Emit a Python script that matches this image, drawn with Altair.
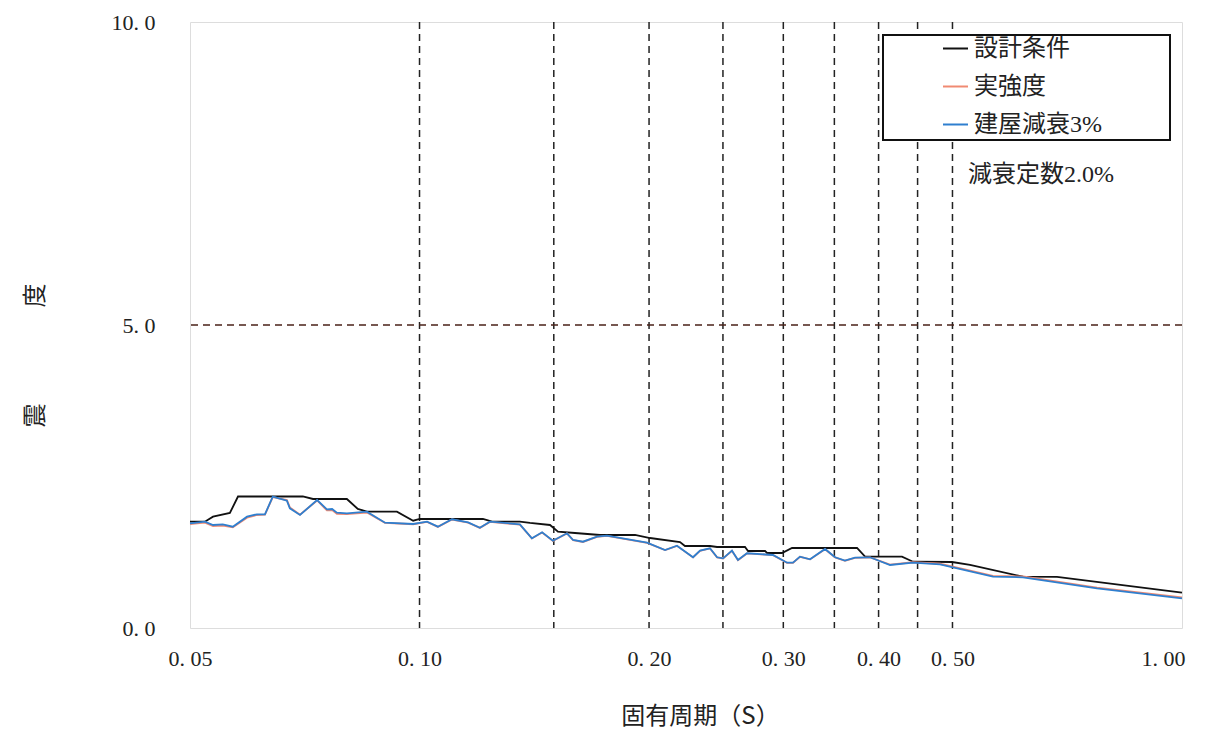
import altair as alt
import pandas as pd

# ---- data ----
series_names = ["設計条件", "実強度", "建屋減衰3%"]
series_colors = ["#111111", "#f08a72", "#2f7fcf"]

design_period = [0.0500, 0.0523, 0.0536, 0.0564, 0.0578, 0.0703, 0.0725, 0.0803, 0.0830, 0.0853,
                 0.0934, 0.0981, 0.1001, 0.1211, 0.1245, 0.1354, 0.1396, 0.1483, 0.1519, 0.1599,
                 0.1725, 0.1917, 0.2006, 0.2196, 0.2229, 0.2404, 0.2456, 0.2672, 0.2697, 0.2839,
                 0.2856, 0.2988, 0.3080, 0.3748, 0.3840, 0.4293, 0.4438, 0.4993, 0.5272, 0.6187,
                 0.6856, 1.0000]
design_value = [1.754, 1.754, 1.837, 1.898, 2.170, 2.170, 2.129, 2.129, 1.964, 1.919,
                1.919, 1.771, 1.799, 1.799, 1.754, 1.754, 1.733, 1.700, 1.589, 1.568,
                1.535, 1.535, 1.485, 1.419, 1.353, 1.353, 1.337, 1.337, 1.271, 1.271,
                1.238, 1.238, 1.320, 1.320, 1.177, 1.177, 1.094, 1.089, 1.040, 0.847,
                0.842, 0.583]

response_period = [0.0500, 0.0523, 0.0536, 0.0552, 0.0569, 0.0594, 0.0612, 0.0627, 0.0642, 0.0670,
                   0.0676, 0.0697, 0.0734, 0.0756, 0.0768, 0.0779, 0.0803, 0.0853, 0.0901, 0.0981,
                   0.1023, 0.1057, 0.1103, 0.1158, 0.1200, 0.1237, 0.1354, 0.1404, 0.1448, 0.1496,
                   0.1561, 0.1590, 0.1638, 0.1709, 0.1761, 0.1988, 0.2099, 0.2176, 0.2284, 0.2333,
                   0.2404, 0.2456, 0.2501, 0.2569, 0.2616, 0.2688, 0.2908, 0.3034, 0.3089, 0.3155,
                   0.3252, 0.3403, 0.3507, 0.3614, 0.3725, 0.3898, 0.4141, 0.4438, 0.4815, 0.5651,
                   0.6187, 0.7737, 1.0000]
actual_value = [1.715, 1.740, 1.680, 1.690, 1.660, 1.820, 1.865, 1.870, 2.160, 2.110,
                1.990, 1.870, 2.105, 1.940, 1.945, 1.885, 1.880, 1.905, 1.735, 1.712,
                1.750, 1.668, 1.790, 1.740, 1.652, 1.750, 1.705, 1.478, 1.575, 1.438,
                1.560, 1.450, 1.420, 1.503, 1.520, 1.405, 1.285, 1.355, 1.165, 1.273,
                1.312, 1.165, 1.148, 1.273, 1.120, 1.230, 1.203, 1.076, 1.076, 1.175,
                1.132, 1.300, 1.165, 1.110, 1.158, 1.165, 1.045, 1.085, 1.060, 0.860,
                0.850, 0.668, 0.505]
damping3_value = [1.728, 1.754, 1.700, 1.711, 1.672, 1.837, 1.876, 1.876, 2.167, 2.101,
                  1.975, 1.865, 2.112, 1.959, 1.964, 1.903, 1.893, 1.919, 1.738, 1.716,
                  1.754, 1.672, 1.794, 1.744, 1.655, 1.754, 1.711, 1.480, 1.579, 1.441,
                  1.563, 1.452, 1.424, 1.507, 1.523, 1.408, 1.287, 1.358, 1.167, 1.276,
                  1.315, 1.167, 1.150, 1.276, 1.122, 1.233, 1.205, 1.078, 1.078, 1.177,
                  1.134, 1.304, 1.167, 1.111, 1.160, 1.167, 1.040, 1.078, 1.051, 0.847,
                  0.837, 0.655, 0.490]

x_tick_values = [0.05, 0.10, 0.20, 0.30, 0.40, 0.50, 1.00]
y_tick_values = [0.0, 5.0, 10.0]
x_grid_values = [0.10, 0.15, 0.20, 0.25, 0.30, 0.35, 0.40, 0.45, 0.50]
y_grid_values = [5.0]
note_text = ["減衰定数2.0%"]
note_period = [0.524]
note_value = [7.47]

# ---- tables ----
df = pd.concat([
    pd.DataFrame({"series": series_names[0], "period": design_period, "value": design_value}),
    pd.DataFrame({"series": series_names[1], "period": response_period, "value": actual_value}),
    pd.DataFrame({"series": series_names[2], "period": response_period, "value": damping3_value}),
], ignore_index=True)
grid_x_df = pd.DataFrame({"period": x_grid_values})
grid_y_df = pd.DataFrame({"value": y_grid_values})
note_df = pd.DataFrame({"text": note_text, "period": note_period, "value": note_value})

SERIF = "Liberation Serif, Noto Sans CJK JP"
CJK = "Noto Sans CJK JP"

x_scale = alt.Scale(type="log", domain=[0.05, 1.0], nice=False)
y_scale = alt.Scale(domain=[0, 10], nice=False, zero=False)

x_axis = alt.Axis(
    values=x_tick_values, grid=False, ticks=False, domain=False,
    labelExpr="replace(format(datum.value, '.2f'), '.', '. ')",
    labelFont="Liberation Serif", labelFontSize=22, labelColor="#222", labelPadding=20,
    labelFlush=False,
    labelOffset={"condition": {"test": "datum.value >= 0.99", "value": -19}, "value": 0},
    title="固有周期（S）", titleFont=CJK, titleFontSize=24, titleFontWeight="normal",
    titleColor="#222", titleX=510, titleY=88, titleBaseline="middle", titleAlign="center",
)
y_axis = alt.Axis(
    values=y_tick_values, grid=False, ticks=False, domain=False,
    labelExpr="replace(format(datum.value, '.1f'), '.', '. ')",
    labelFont="Liberation Serif", labelFontSize=22, labelColor="#222", labelPadding=35,
    title="震\u3000\u3000\u3000\u3000度", titleFont=CJK, titleFontSize=24, titleFontWeight="normal",
    titleColor="#222", titleAngle=-90, titleX=-155, titleY=333, titleAlign="center",
    titleBaseline="middle",
)

color_scale = alt.Scale(domain=series_names, range=series_colors)
legend = alt.Legend(
    title=None, orient="none", legendX=752, legendY=13, padding=0,
    symbolType="stroke", symbolSize=625, symbolStrokeWidth=2, rowPadding=12,
    labelFont=SERIF, labelFontSize=24, labelColor="#222", labelOffset=5,
)

vgrid = alt.Chart(grid_x_df).mark_rule(color="#222", strokeWidth=1.5, strokeDash=[7, 5]).encode(
    x=alt.X("period:Q", scale=x_scale, axis=x_axis)
)
hgrid = alt.Chart(grid_y_df).mark_rule(color="#4a2218", strokeWidth=1.5, strokeDash=[7, 5]).encode(
    y=alt.Y("value:Q", scale=y_scale, axis=y_axis)
)

lines = alt.Chart(df).mark_line(strokeWidth=1.8).encode(
    x=alt.X("period:Q", scale=x_scale, axis=x_axis),
    y=alt.Y("value:Q", scale=y_scale, axis=y_axis),
    color=alt.Color("series:N", scale=color_scale, legend=legend, sort=series_names),
    detail="series:N",
)

note = alt.Chart(note_df).mark_text(
    align="left", baseline="middle", font=SERIF, fontSize=24, color="#222"
).encode(
    x=alt.X("period:Q", scale=x_scale, axis=x_axis),
    y=alt.Y("value:Q", scale=y_scale, axis=y_axis),
    text="text:N",
)

legend_box = alt.Chart(pd.DataFrame({"k": [0]})).mark_rect(
    fill="white", fillOpacity=1, stroke="#111", strokeWidth=2
).encode(
    x=alt.value(693), x2=alt.value(980), y=alt.value(13), y2=alt.value(118)
)

chart = alt.layer(vgrid, hgrid, legend_box, lines, note).properties(
    width=992, height=606,
    autosize=alt.AutoSizeParams(type="none"),
    padding={"left": 182, "top": 14, "right": 16, "bottom": 108},
).configure_view(
    stroke="#111", strokeWidth=2.5
).configure(background="white")

chart.save("out.html", embed_options={"renderer": "svg", "actions": False})
